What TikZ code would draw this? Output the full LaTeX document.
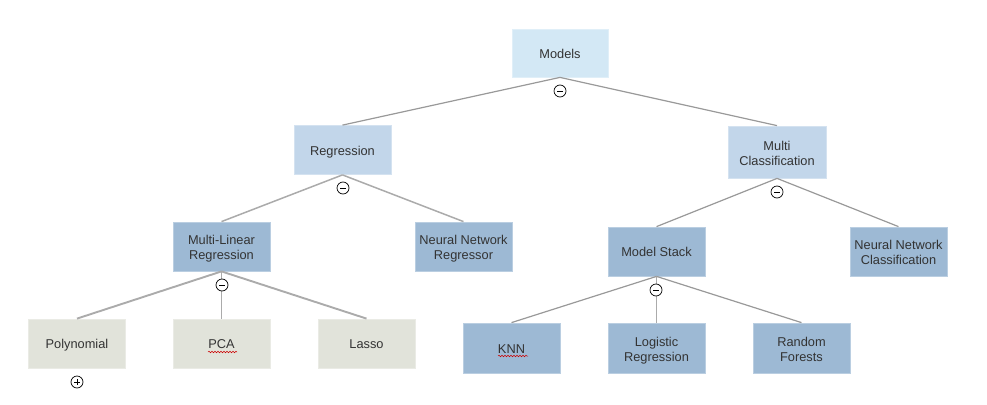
\documentclass[tikz,border=0pt]{standalone}
\usepackage{fontspec}
\setmainfont{Liberation Sans}
\usetikzlibrary{decorations.pathmorphing}
\definecolor{txt}{HTML}{333333}
\definecolor{lvlA}{HTML}{D3E8F5}
\definecolor{lvlB}{HTML}{C2D6EA}
\definecolor{lvlC}{HTML}{9DB9D4}
\definecolor{lvlG}{HTML}{E1E3DA}
\definecolor{edge}{HTML}{999999}
\definecolor{edgeL}{HTML}{ABABAB}
\begin{document}
\begin{tikzpicture}[x=1pt,y=-1pt,
  box/.style={rectangle,inner sep=0pt,minimum width=97pt,minimum height=49pt,
    align=center,text=txt,font=\fontsize{12.8}{15}\selectfont},
  one/.style={text height=10.5pt,text depth=0pt},
  two/.style={text height=26pt,text depth=0pt},
  boxA/.style={box,fill=lvlA,draw=lvlA!70!white,line width=0.8pt},
  boxB/.style={box,fill=lvlB,draw=lvlB!70!white,line width=0.8pt},
  boxC/.style={box,fill=lvlC,draw=lvlC!70!white,line width=0.8pt},
  boxG/.style={box,fill=lvlG,draw=lvlG!70!white,line width=0.8pt},
  conn/.style={draw=edge,line width=1.2pt},
  connT/.style={draw=edgeL,line width=1.9pt},
  toggle/.style={circle,draw=black,fill=white,line width=0.7pt,minimum size=12pt,inner sep=0pt},
  squig/.style={draw=red!80!black,line width=0.5pt,decorate,decoration={snake,amplitude=0.8pt,segment length=3pt}}
]
\useasboundingbox (0,0) rectangle (987,404);

\node[boxA,one,minimum width=96pt,minimum height=48pt] (models) at (560,53) {Models};
\node[boxB,one] (reg) at (342.5,150) {Regression};
\node[boxB,two,minimum width=98pt,minimum height=52pt] (mc) at (777,152) {Multi\\Classification};
\node[boxC,two] (mlr) at (221.5,246.5) {Multi-Linear\\Regression};
\node[boxC,two] (nnr) at (463.5,246.5) {Neural Network\\Regressor};
\node[boxC,one] (ms) at (656.5,251.5) {Model Stack};
\node[boxC,two] (nnc) at (898.5,251.5) {Neural Network\\Classification};
\node[boxG,one] (poly) at (77,343.5) {Polynomial};
\node[boxG,one] (pca) at (221.5,343.5) {PCA};
\node[boxG,one] (lasso) at (366.5,343.5) {Lasso};
\node[boxC,one,minimum height=50pt] (knn) at (511.5,348) {KNN};
\node[boxC,two,minimum height=50pt] (lr) at (656.5,348) {Logistic\\Regression};
\node[boxC,two,minimum height=50pt] (rf) at (801.5,348) {Random\\Forests};

\draw[conn] (models.south) -- (reg.north);
\draw[conn] (models.south) -- (mc.north);
\draw[connT,line width=1.5pt] (reg.south) -- (mlr.north);
\draw[connT,line width=1.5pt] (reg.south) -- (nnr.north);
\draw[conn] (mc.south) -- (ms.north);
\draw[conn] (mc.south) -- (nnc.north);
\draw[connT] (mlr.south) -- (poly.north);
\draw[connT] (mlr.south) -- (pca.north);
\draw[connT] (mlr.south) -- (lasso.north);
\draw[conn] (ms.south) -- (knn.north);
\draw[connT] (ms.south) -- (lr.north);
\draw[conn] (ms.south) -- (rf.north);

\foreach \n/\x/\y in {t1/560/91, t2/343/188, t3/777/192, t4/222/285, t5/656/290}{
  \node[toggle] (\n) at (\x,\y) {};
  \draw[black,line width=0.9pt] ([xshift=-2.6pt]\n.center) -- ([xshift=2.6pt]\n.center);
}
\node[toggle] (tp) at (77,382) {};
\draw[black,line width=0.9pt] ([xshift=-2.6pt]tp.center) -- ([xshift=2.6pt]tp.center);
\draw[black,line width=0.9pt] ([yshift=-2.6pt]tp.center) -- ([yshift=2.6pt]tp.center);

\coordinate (sqA1) at (208,352);
\coordinate (sqA2) at (237,352);
\coordinate (sqB1) at (498,356);
\coordinate (sqB2) at (528,356);
\draw[squig] (sqA1) -- (sqA2);
\draw[squig] (sqB1) -- (sqB2);
\end{tikzpicture}
\end{document}
